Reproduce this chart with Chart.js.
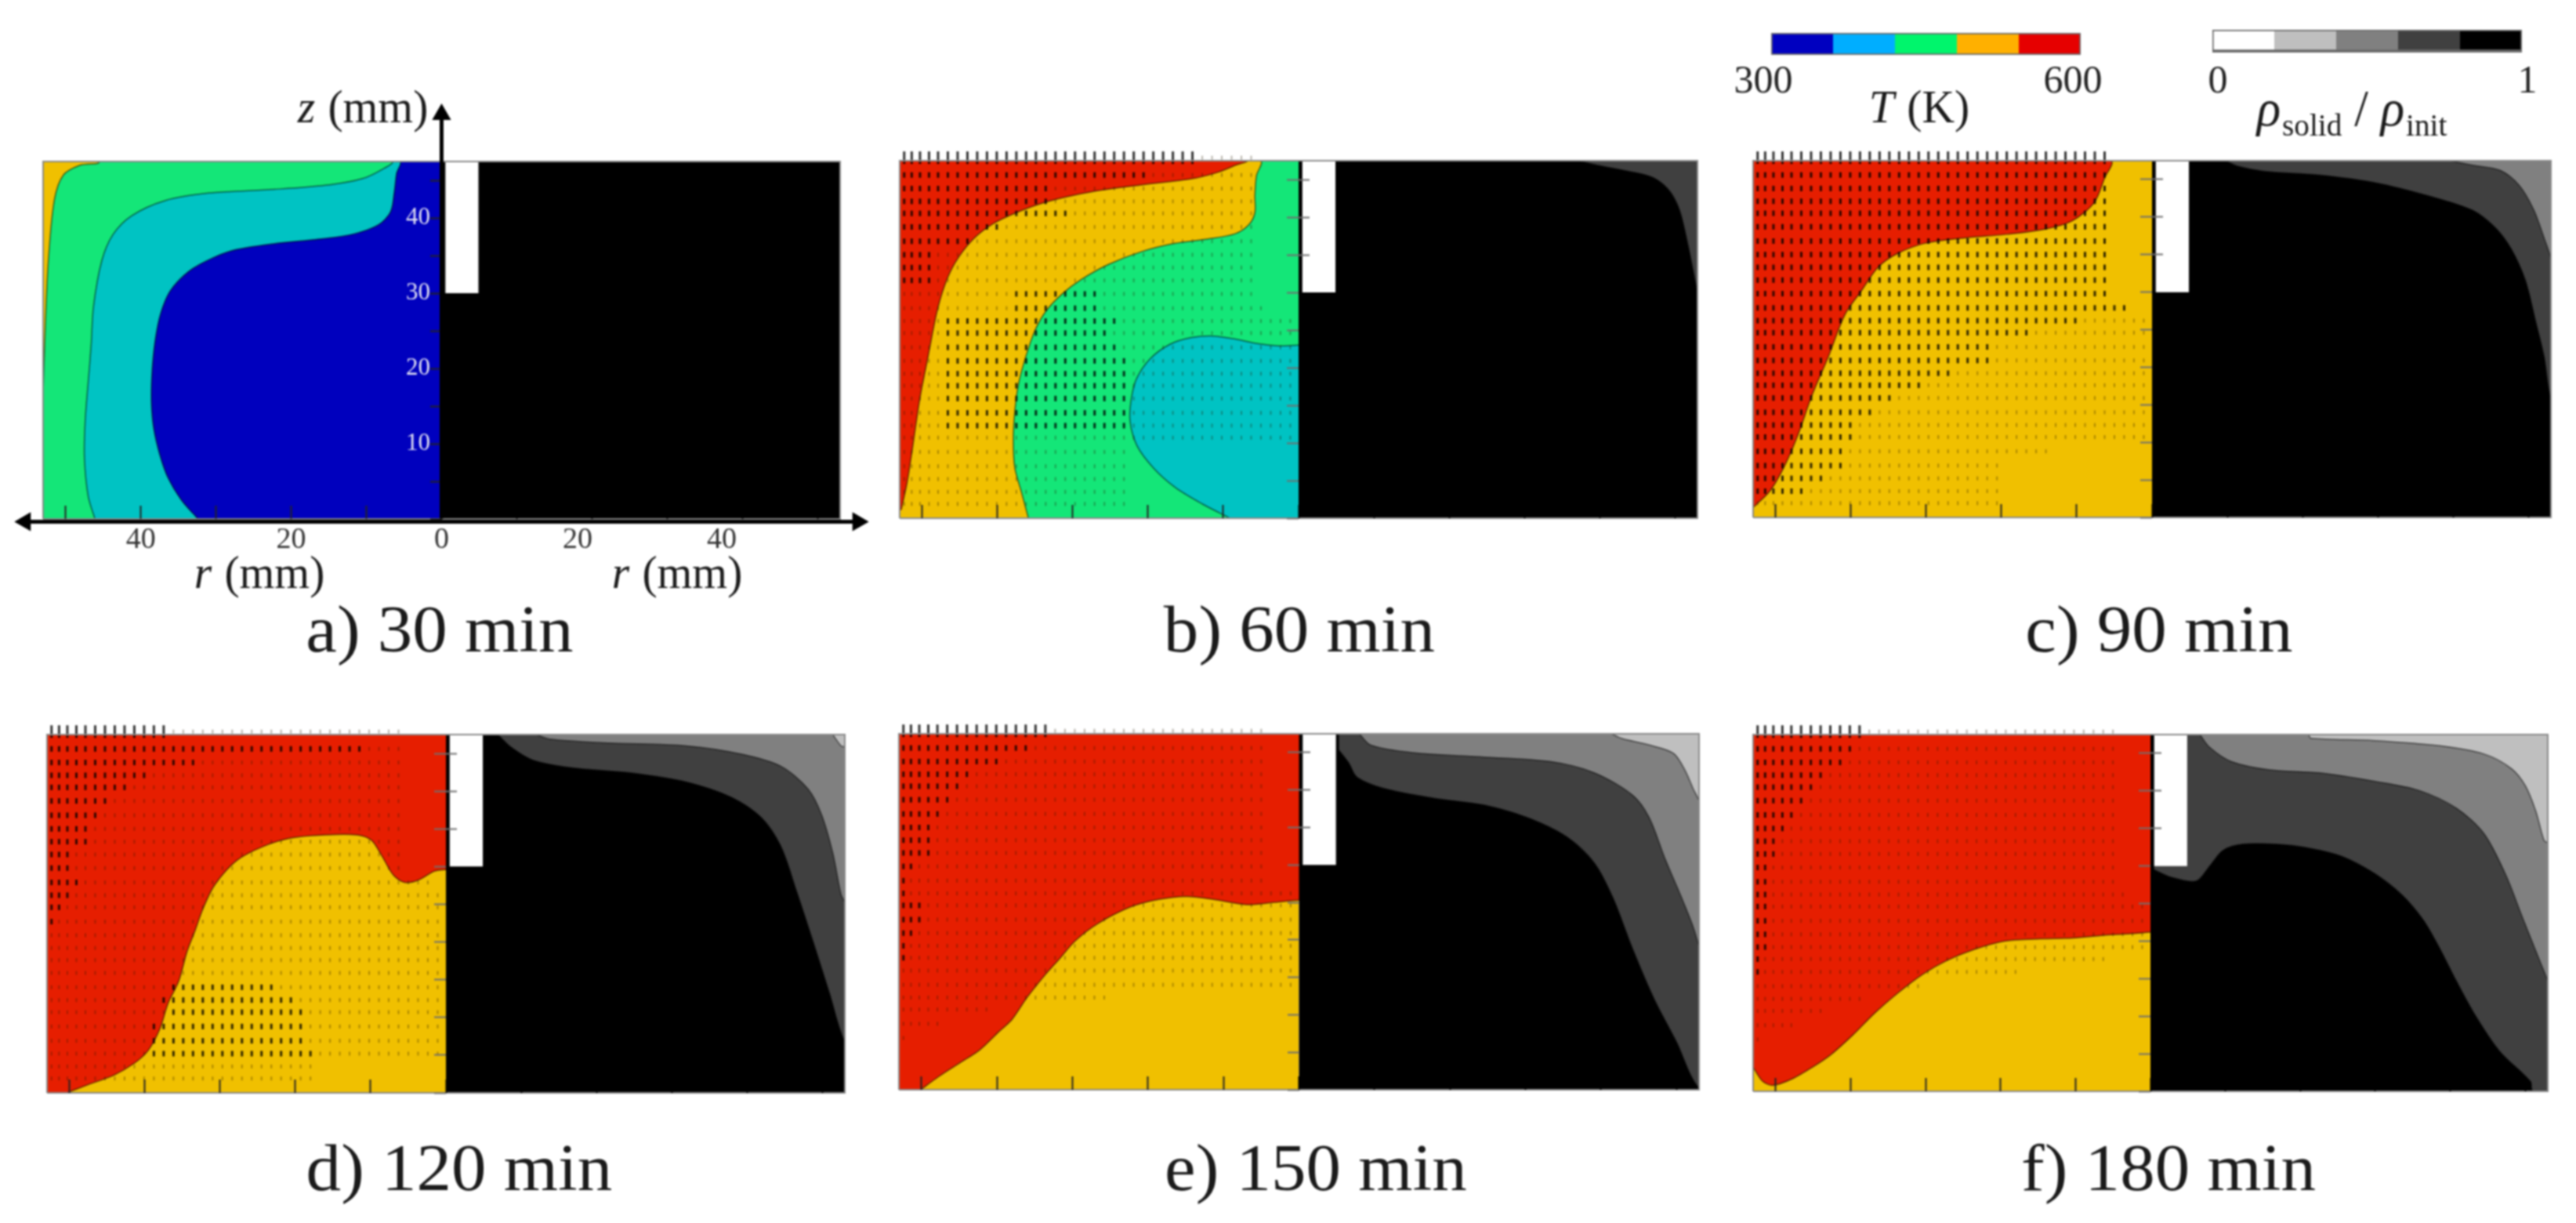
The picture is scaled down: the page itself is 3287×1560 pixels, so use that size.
<!DOCTYPE html>
<html>
<head>
<meta charset="utf-8">
<script src="https://cdn.jsdelivr.net/npm/chart.js@4/dist/chart.umd.min.js"></script>
<style>
  html, body { margin: 0; background: #fff; width: 3287px; height: 1560px; overflow: hidden; }
  #page { position: absolute; left: 0; top: 0; width: 3287px; height: 1560px; filter: blur(0.8px); }
  canvas { position: absolute; }
  .txt { position: absolute; font-family: "Liberation Serif", serif; color: #1a1a1a; white-space: nowrap;
         transform: translate(-50%, -50%); line-height: 1; }
  .cap { font-size: 84px; transform: translate(-50%, -50%) scaleX(1.06); }
  .ax { font-size: 60px; transform: translate(-50%, -50%) scaleX(0.96); }
  .rho { font-size: 66px; }
  .ax i { margin-right: 2px; }
  sub { font-size: 62%; vertical-align: -0.3em; }
</style>
</head>
<body>
<div id="page"></div>
<script>
// all contours are [r mm, z mm]
const a_blue_teal = [[-32.4,0],[-34.6,2.5],[-36.4,5.5],[-37.5,8.6],[-38.3,12.1],[-38.6,15.6],[-38.5,19.7],[-38.1,23.7],[-37.4,27.2],[-36.1,30.3],[-33.5,33],[-30.2,34.8],[-27.3,35.8],[-22.2,36.6],[-17.1,37.1],[-12,37.8],[-8.4,39.1],[-6.8,40.8],[-6.3,43.4],[-6,45.9],[-5.6,47.5]];
const a_teal_green = [[-46.1,0],[-47,3],[-47.5,8.1],[-47.4,13.1],[-47,18.2],[-46.6,23.2],[-46.3,28.2],[-45.2,34.3],[-43.7,37.8],[-41.2,40.3],[-36.8,42.3],[-31,43.3],[-22.2,43.8],[-14.9,44.4],[-10.6,45.2],[-8,46.4],[-6.6,47.5]];
const a_green_yellow = [[-53,16.6],[-52.7,25.7],[-52.3,34.3],[-51.5,42.4],[-50.3,45.7],[-48.1,47],[-45.6,47.5]];

const b_teal_green = [[-9.1,0],[-12.8,1.9],[-16.4,4.1],[-19.3,6.7],[-21.5,9.7],[-22.4,13],[-22.2,16],[-21.5,18.6],[-19.7,21.2],[-17.1,23.1],[-14.2,24],[-11.3,24.2],[-8.4,23.8],[-5.5,23.2],[-2.6,22.9],[0,23]];
const b_green_yellow = [[-35.9,0],[-36.8,3.4],[-37.7,6.7],[-37.9,10.4],[-37.7,14.2],[-37.2,17.9],[-36.2,21.6],[-35,25],[-33.5,27.6],[-31.4,29.8],[-28.9,31.7],[-25.3,33.7],[-20.9,35.4],[-16.5,36.5],[-12,37.1],[-8.4,37.8],[-6.6,39],[-5.8,40.6],[-5.8,42.9],[-5.6,45.5],[-5.1,47.5]];
const b_yellow_red = [[-52.8,1.1],[-52,4.8],[-51.3,9.3],[-50.3,16],[-49.2,21.6],[-48.1,27.2],[-47,31],[-45.6,34],[-43.4,36.9],[-40.8,39],[-37.5,40.6],[-33.2,42.1],[-27.3,43.4],[-20.8,44.3],[-14.2,45.1],[-10.6,46],[-8.4,46.9],[-6.9,47.5]];
const b_black_dark = [[37.2,47.5],[39.7,46.9],[43.3,46.2],[47,45.3],[49.2,43.6],[50.6,41],[51.7,36.5],[52.8,31]];

const c_yellow_red = [[-53,1.3],[-50.7,3.6],[-48.8,6.9],[-47,11.1],[-45.2,16.2],[-43,21.4],[-40.8,27],[-38.6,30.2],[-36.4,33.3],[-33.9,35.1],[-30.2,36.5],[-25.1,37.2],[-19.3,37.7],[-14.2,38.4],[-10.6,39.5],[-7.7,41.9],[-6.3,45.2],[-5.5,47.5]];
const c_black_dark = [[9.8,47.5],[11.3,46.8],[14.9,46.1],[22.2,45.6],[29.5,44.6],[36.8,42.8],[42.6,40.9],[45.6,38.6],[47.7,35.8],[49.6,31.6],[51,26],[52.1,21.4],[53,15.8]];
const c_dark_mid = [[39.7,47.5],[42.6,46.9],[46.3,46.2],[48.8,44.2],[50.7,41],[52.1,37.2],[53,34.4]];

const d_yellow_red = [[-50.4,0],[-47.5,1.1],[-44.2,2.3],[-41.3,4],[-39.5,5.7],[-38,8.5],[-36.9,11.9],[-35.5,14.8],[-34.4,18.7],[-33.3,21.6],[-32.2,24.6],[-30.7,27.6],[-27.8,30.8],[-24.2,32.7],[-20.5,33.8],[-16.1,34.2],[-11.8,34.2],[-9.9,33.5],[-8.5,31.4],[-7,28.9],[-5.5,27.9],[-3.7,28.2],[-1.5,29.4],[0,29.6]];
const d_black_dark = [[6.9,47.5],[8.7,45.8],[11.6,44.1],[16.7,43.1],[24.7,42.4],[32,41.2],[37.9,39.2],[41.9,36.5],[44.5,32.7],[46.6,26.7],[48.8,20],[51,13.1],[53,6.8]];
const d_dark_mid = [[12,47.5],[13.8,46.9],[21.1,46.4],[32,46],[39.3,44.9],[44.5,43.3],[48.1,40.3],[49.9,36.9],[51.4,31.8],[52.5,26.3],[53,25.2]];
const d_mid_light = [[51.4,47.5],[52.5,46],[53,45.8]];

const e_yellow_red = [[-50.1,0],[-47.8,1.7],[-44.9,3.6],[-42.3,5.3],[-39.8,7.7],[-38,9.4],[-36.1,12.2],[-33.9,15],[-31.7,17.5],[-29.6,19.9],[-26.6,22.2],[-22.3,24.4],[-18.6,25.4],[-14.9,25.8],[-11.3,25.4],[-6.9,24.7],[-3.3,25],[0,25.3]];
const e_black_dark = [[5.3,45.3],[6.6,43.6],[7.7,41.7],[11.3,40.2],[17.9,38.9],[24.5,38],[30.3,36.3],[35.4,33.8],[39.1,30.3],[41.6,25.6],[44.2,18.8],[47.1,12],[50,6.4],[53,0.2]];
const e_dark_mid = [[8,47.5],[9.5,46],[15,45],[24.5,44.4],[33.2,43.8],[39.1,42.3],[44.2,39.3],[46.4,36.3],[48.5,30.8],[50.7,25.6],[52.2,21.8],[53.1,18.8]];
const e_mid_light = [[41.4,47.5],[42.7,46.9],[46.4,46],[49.6,44.9],[51.1,42.7],[52.2,40.2],[53.1,38.2]];

const f_yellow_red = [[-53,3.2],[-51.7,1.3],[-50.3,0.8],[-47.7,1.7],[-45.1,3.2],[-42.6,4.9],[-39.7,7.5],[-36.8,10.4],[-33.8,13],[-30.5,15.5],[-27.2,17.4],[-23.5,18.9],[-19.5,20],[-14.7,20.3],[-10.4,20.4],[-6,20.8],[-2.3,21],[0,21.2]];
const f_black_dark = [[0.5,29.5],[2.8,28.5],[6.1,28],[7.9,30],[9.7,32.1],[12.3,32.9],[16.7,32.9],[21.1,32.4],[25.5,31.3],[29.9,29],[33.5,26.2],[36.4,22.8],[38.6,19],[40.8,14.7],[43.4,10],[46.6,5.3],[50.7,1.3],[51,0]];
const f_dark_mid = [[6.6,47.5],[7.9,45.8],[10.8,43.9],[15.9,42.8],[22.5,42.4],[29.8,41.3],[35.7,40.1],[40.8,37.7],[44.5,34.3],[47.4,28.8],[49.6,23.2],[51.8,17.7],[53,14.7]];
const f_mid_light = [[21.1,47.5],[21.4,47],[29.8,46.7],[38.6,46],[44.5,44.9],[48.1,43],[50,40.7],[51.4,37.3],[52.5,33.4],[53,33]];

// velocity arrows: the grid columns and rows they sit on
const arrowR = [-52.4,-51.4,-50.3,-49.1,-47.9,-46.6,-45.3,-44,-42.7,-41.4,-40.1,-38.8,-37.5,-36.2,-34.9,-33.6,-32.3,-31,-29.7,-28.4,-27.1,-25.8,-24.5,-23.2,-21.9,-20.6,-19.3,-18,-16.7,-15.4,-14.1,-12.8,-11.5,-10.2,-8.9,-7.6,-6.3,-5,-3.7,-2.4,-1.1];
const arrowZ = [47.9,45.6,43.8,42.1,40.5,38.7,36.8,35,33.3,31.6,29.8,27.9,26.2,24.6,22.7,20.9,19.2,17.6,15.9,14,12.3,10.7,8.8,6.9,5.2,3.5,1.9];

// per row: how far right the arrows reach, and where they are drawn dark
const b_reach = [-6,-6,-6,-6,-6,-6,-6,-6,-6,-6,-6,-5,-1,-1,-1,-1,-1,-1,-1,-1,-1,-1,-22,-22,-22,-22,-22];
const b_darkFrom = [-53,-53,-53,-53,-53,-53,-53,-53,-53,-53,-38,-38,-47,-47,-47,-47,-47,-47,-47,-47,-47,-49,0,0,0,0,0];
const b_darkTo = [-14,-20,-33,-33,-31,-40,-44,-48,-49,-49,-26,-26,-24,-25,-24,-23,-23,-23,-22,-22,-22,-48,0,0,0,0,0];

const c_reach = [-6,-6,-6,-6,-6,-6,-6,-6,-6,-6,-6,-3,-1,-1,-1,-1,-1,-1,-1,-1,-1,-1,-13,-20,-20,-20,-20];
const c_darkFrom = [-53,-53,-53,-53,-53,-53,-53,-53,-53,-53,-53,-53,-53,-53,-53,-53,-53,-53,-53,-53,-53,-53,-53,-53,-53,-53,0];
const c_darkTo = [-6,-6,-6,-6,-6,-6,-6,-6,-6,-6,-6,-3,-10,-16,-21,-21,-27,-31,-34,-37,-39,-40,-41,-41,-43,-46,0];

const d_reach = [-6,-6,-6,-6,-6,-6,-6,-6,-6,-6,-6,-2,-1,-1,-1,-1,-1,-1,-1,-1,-1,-1,-1,-1,-1,-18,-18];
const d_darkFrom = [-53,-53,-53,-53,-53,-53,-53,-53,-53,-53,-53,-53,-53,-53,-53,0,0,0,0,-37,-38,-37,-40,-40,-40,0,0];
const d_darkTo = [-37,-11,-33,-39,-42,-45,-46,-47,-47,-50,-50,-49,-50,-51,-52,0,0,0,0,-22,-20,-19,-19,-19,-18,0,0];

const e_reach = [-5,-5,-5,-5,-5,-5,-5,-5,-5,-5,-5,-4,-1,-1,-1,-1,-1,-1,-1,-1,-25,-41,-47,-52,-99,-99,-99];
const e_darkFrom = [-53,-53,-53,-53,-53,-53,-53,-53,-53,-53,-53,-53,-53,-53,-53,-53,-53,-53,0,0,0,0,0,0,0,0,0];
const e_darkTo = [-33,-36,-40,-43,-45,-46,-47,-48,-49,-49,-51,-52,-52,-50,-50,-51,-52,-52,0,0,0,0,0,0,0,0,0];

const f_reach = [-5,-5,-5,-5,-5,-5,-5,-5,-5,-5,-5,-4,-3,-1,-1,-1,-1,-6,-18,-31,-38,-43,-47,-52,-99,-99,-99];
const f_darkFrom = [-53,-53,-53,-53,-53,-53,-53,-53,-53,-53,-53,-53,-53,-53,-53,-53,-53,-53,-53,0,0,0,0,0,0,0,0];
const f_darkTo = [-38,-39,-41,-43,-45,-46,-47,-48,-50,-50,-51,-51,-51,-51,-51,-51,-51,-52,-52,0,0,0,0,0,0,0,0];

// colour bars
const tempEdges = [300,360,420,480,540,600];
const tempColors = ['#0000c0','#00aeff','#00f56c','#ffb000','#e60000'];
const rhoEdges = [0,0.2,0.4,0.6,0.8,1];
const rhoColors = ['#ffffff','#bfbfbf','#808080','#404040','#000000'];

const zTicks = [10,20,30,40];
const rTicksLeft = [-40,-20,0];
const rTicksRight = [20,40];
const axisZ = [[0,0],[0,53.7]];
const axisR = [[-55.4,-0.4],[55.4,-0.4]];
const rMin = -53, rMax = 53, zMin = 0, zMax = 47.5;
const holeEdge = [[0.5,30],[4.9,30],[4.9,47.5],[0.5,47.5]];

const BLUE = '#0000be', TEAL = '#00c3c3', GREEN = '#14e678', YELLOW = '#f0c000', RED = '#e61e00';
const DARK = '#404040', MID = '#808080', LIGHT = '#bfbfbf';

Chart.defaults.font.family = '"Liberation Serif", serif';

const toPts = list => list.map(p => ({x: p[0], y: p[1]}));
const zeroH = s => { s.height = 0; };
const zeroW = s => { s.width = 0; };
const page = document.getElementById('page');

// region above and left of a contour on the temperature side
function leftShape(curve, color) {
    const last = curve[curve.length - 1];
    const rim = last[0] > -1 ? [[3,last[1]],[3,60],[-60,60],[-60,-5]] : [[-60,60],[-60,-5]];
    return shapeSet(curve.concat(rim), color);
}

// region above and right of a contour on the density side
function rightShape(curve, color) {
    return shapeSet(curve.concat([[60,-5],[60,60],[curve[0][0],60]]), color);
}

function shapeSet(list, color) {
    return {
        data: toPts(list), showLine: true, fill: 'shape', backgroundColor: color,
        borderColor: 'rgba(0,0,0,0.55)', borderWidth: 1.5, pointRadius: 0,
        tension: 0.3, capBezierPoints: false
    };
}

function rectSet(list, color) {
    return {data: toPts(list), showLine: true, fill: 'shape', backgroundColor: color,
            borderWidth: 0, pointRadius: 0, tension: 0};
}

// splits the arrow grid into dark and faint marks for one panel
function arrowSets(reach, darkFrom, darkTo) {
    const dark = [], faint = [];
    arrowZ.forEach((z, i) => {
        arrowR.forEach(r => {
            if (r > reach[i]) return;
            if (r >= darkFrom[i] && r <= darkTo[i]) dark.push({x: r, y: z});
            else faint.push({x: r, y: z});
        });
    });
    const base = {showLine: false, pointStyle: 'line', pointRotation: 90, clip: 30};
    return [
        {...base, data: faint, pointRadius: 2.5, pointBorderWidth: 2, pointBorderColor: 'rgba(40,25,0,0.34)'},
        {...base, data: dark, pointBorderWidth: 3, pointBorderColor: 'rgba(0,0,0,0.8)',
         pointRadius: dark.map(p => p.y > 47 ? 8 : 3.5)}
    ];
}

function makeCanvas(left, top, w, h) {
    const canvas = document.createElement('canvas');
    canvas.width = w; canvas.height = h;
    canvas.style.left = left + 'px';
    canvas.style.top = top + 'px';
    page.appendChild(canvas);
    return canvas;
}

function contourChart(cfg) {
    const padL = cfg.padL || 30, padR = cfg.padR || 30, padT = cfg.padT || 40, padB = cfg.padB || 30;
    const canvas = makeCanvas(cfg.L - padL, cfg.T - padT, cfg.R - cfg.L + padL + padR, cfg.B - cfg.T + padT + padB);

    const layers = [rectSet([[rMin,zMin],[0,zMin],[0,zMax],[rMin,zMax]], cfg.base)]
        .concat(cfg.left.map(s => leftShape(s[0], s[1])))
        .concat([rectSet([[0,zMin],[rMax,zMin],[rMax,zMax],[0,zMax]], '#000000')])
        .concat(cfg.right.map(s => rightShape(s[0], s[1])))
        .concat([rectSet(holeEdge, '#ffffff')])
        .concat(cfg.arrows ? arrowSets(cfg.arrows[0], cfg.arrows[1], cfg.arrows[2]) : []);
    layers.push({data: toPts([[rMin,zMin],[rMax,zMin],[rMax,zMax],[rMin,zMax],[rMin,zMin]]), showLine: true,
                 borderColor: '#8a8a8a', borderWidth: 2, pointRadius: 0, tension: 0, clip: false});

    const labelled = !!cfg.labelled;
    const scales = {
        x: {
            type: 'linear', min: rMin, max: rMax, afterFit: zeroH,
            border: {display: false},
            grid: {drawOnChartArea: false, tickLength: -17, tickWidth: 2, z: 2,
                   tickColor: ctx => ctx.tick.value < 0 ? '#222' : '#000'},
            ticks: {
                // mirror keeps the labels from being clipped to the zero height axis box;
                // a mirrored bottom axis measures padding upwards, so it is negative here
                display: labelled, mirror: true, stepSize: 10, includeBounds: false, autoSkip: false, maxRotation: 0,
                padding: -50, color: '#333', font: {size: 38},
                callback: v => rTicksLeft.includes(v) ? String(Math.abs(v)) : ''
            }
        },
        y: {
            type: 'linear', min: zMin, max: zMax, afterFit: zeroW,
            position: {x: labelled ? -1.5 : 0},
            border: {display: false},
            grid: {drawOnChartArea: false, tickLength: labelled ? -15 : 15, tickWidth: 2,
                   tickColor: labelled ? '#222' : '#6f6f6f', z: 2},
            ticks: {
                display: labelled, stepSize: 5, includeBounds: false, autoSkip: false,
                padding: 0, color: '#e4e4f4', font: {size: 31}, z: 2,
                callback: v => zTicks.includes(v) ? String(v) : ''
            }
        }
    };
    if (labelled) {
        // the right side labels sit a little off the data scale in the figure
        scales.xLabels = {
            type: 'linear', position: 'bottom', min: -54.1, max: 56.4, afterFit: zeroH,
            border: {display: false}, grid: {display: false},
            ticks: {mirror: true, stepSize: 20, includeBounds: false, autoSkip: false, maxRotation: 0, padding: -50,
                    color: '#333', font: {size: 38},
                    callback: v => rTicksRight.includes(v) ? String(v) : ''}
        };
    } else {
        // the small part of each z tick that shows on the white slot
        scales.yHole = {
            type: 'linear', min: zMin, max: zMax, afterFit: zeroW,
            position: {x: 1.5},
            border: {display: false},
            grid: {drawOnChartArea: false, tickLength: 15, tickWidth: 2, z: 2,
                   tickColor: ctx => ctx.tick.value > 30 ? '#6f6f6f' : 'rgba(0,0,0,0)'},
            ticks: {display: false, stepSize: 5, includeBounds: false}
        };
    }

    new Chart(canvas, {
        type: 'scatter',
        data: {datasets: layers.reverse()},
        options: {
            responsive: false, animation: false, events: [],
            layout: {padding: {left: padL, right: padR, top: padT, bottom: padB}},
            plugins: {legend: {display: false}, tooltip: {enabled: false}},
            scales
        }
    });
}

// the z and r arrows of panel a, on their own chart so the heads can sit past the panel
function axisArrows() {
    const canvas = makeCanvas(0, 100, 1130, 640);
    const head = {showLine: true, borderColor: '#000', borderWidth: 5, pointStyle: 'triangle',
                  pointBackgroundColor: '#000', pointBorderWidth: 0, tension: 0};
    new Chart(canvas, {
        type: 'scatter',
        data: {datasets: [
            {...head, data: toPts(axisZ), pointRadius: [0,14]},
            {...head, data: toPts(axisR), pointRadius: [14,14], pointRotation: [-90,90]}
        ]},
        options: {
            responsive: false, animation: false, events: [],
            layout: {padding: {left: 15, right: 20, top: 25, bottom: 40}},
            plugins: {legend: {display: false}, tooltip: {enabled: false}},
            scales: {
                x: {display: false, min: -57.2, max: 57},
                y: {display: false, min: -4, max: 55.9}
            }
        }
    });
}

function colorBar(cfg) {
    const padL = 60, padR = 60, padT = 4, padB = 70;
    const canvas = makeCanvas(cfg.L - padL, cfg.T - padT, cfg.R - cfg.L + padL + padR, cfg.B - cfg.T + padT + padB);
    const n = cfg.colors.length;
    new Chart(canvas, {
        type: 'bar',
        data: {
            labels: [''],
            datasets: cfg.colors.map((c, i) => ({
                data: [[cfg.edges[i], cfg.edges[i + 1]]], backgroundColor: c, grouped: false,
                barPercentage: 1, categoryPercentage: 1, borderColor: '#6a6a6a', borderSkipped: false,
                borderWidth: {top: 2, bottom: cfg.bottomLine, left: i === 0 ? 2 : 0, right: i === n - 1 ? 2 : 0}
            }))
        },
        options: {
            indexAxis: 'y', responsive: false, animation: false, events: [],
            layout: {padding: {left: padL, right: padR, top: padT, bottom: padB}},
            plugins: {legend: {display: false}, tooltip: {enabled: false}},
            scales: {
                y: {display: false},
                x: {
                    type: 'linear', min: cfg.edges[0], max: cfg.edges[n], afterFit: zeroH,
                    border: {display: false}, grid: {display: false},
                    ticks: {mirror: true, stepSize: cfg.edges[n] - cfg.edges[0], padding: -cfg.gap, color: '#222',
                            labelOffset: cfg.shift, font: {size: 50}, maxRotation: 0, autoSkip: false}
                }
            }
        }
    });
}

function addText(html, x, y, cls) {
    const d = document.createElement('div');
    d.className = 'txt ' + cls;
    d.innerHTML = html;
    d.style.left = x + 'px';
    d.style.top = y + 'px';
    page.appendChild(d);
}

contourChart({L: 55, R: 1072, T: 206, B: 662, base: BLUE, labelled: true, padL: 55, padR: 60, padT: 40, padB: 60,
    left: [[a_blue_teal, TEAL], [a_teal_green, GREEN], [a_green_yellow, YELLOW]], right: []});
axisArrows();
contourChart({L: 1148, R: 2166, T: 205, B: 661, base: TEAL, arrows: [b_reach, b_darkFrom, b_darkTo],
    left: [[b_teal_green, GREEN], [b_green_yellow, YELLOW], [b_yellow_red, RED]], right: [[b_black_dark, DARK]]});
contourChart({L: 2237, R: 3255, T: 205, B: 660, base: YELLOW, arrows: [c_reach, c_darkFrom, c_darkTo],
    left: [[c_yellow_red, RED]], right: [[c_black_dark, DARK], [c_dark_mid, MID]]});
contourChart({L: 60, R: 1078, T: 937, B: 1394, base: YELLOW, arrows: [d_reach, d_darkFrom, d_darkTo],
    left: [[d_yellow_red, RED]], right: [[d_black_dark, DARK], [d_dark_mid, MID], [d_mid_light, LIGHT]]});
contourChart({L: 1147, R: 2168, T: 936, B: 1390, base: YELLOW, arrows: [e_reach, e_darkFrom, e_darkTo],
    left: [[e_yellow_red, RED]], right: [[e_black_dark, DARK], [e_dark_mid, MID], [e_mid_light, LIGHT]]});
contourChart({L: 2237, R: 3251, T: 937, B: 1392, base: YELLOW, arrows: [f_reach, f_darkFrom, f_darkTo],
    left: [[f_yellow_red, RED]], right: [[f_black_dark, DARK], [f_dark_mid, MID], [f_mid_light, LIGHT]]});

colorBar({L: 2260, R: 2655, T: 42, B: 70, edges: tempEdges, colors: tempColors, shift: -10, bottomLine: 2, gap: 65});
colorBar({L: 2823, R: 3218, T: 38, B: 67, edges: rhoEdges, colors: rhoColors, shift: 7, bottomLine: 4, gap: 68});

addText('<i>z</i> (mm)', 463, 136, 'ax');
addText('<i>r</i> (mm)', 331, 730, 'ax');
addText('<i>r</i> (mm)', 864, 730, 'ax');
addText('<i>T</i> (K)', 2449, 136, 'ax');
addText('<i>&rho;</i><sub>solid</sub> / <i>&rho;</i><sub>init</sub>', 3001, 143, 'ax rho');
addText('a) 30 min', 561, 803, 'cap');
addText('b) 60 min', 1658, 803, 'cap');
addText('c) 90 min', 2755, 803, 'cap');
addText('d) 120 min', 586, 1490, 'cap');
addText('e) 150 min', 1679, 1490, 'cap');
addText('f) 180 min', 2767, 1490, 'cap');
</script>
</body>
</html>
